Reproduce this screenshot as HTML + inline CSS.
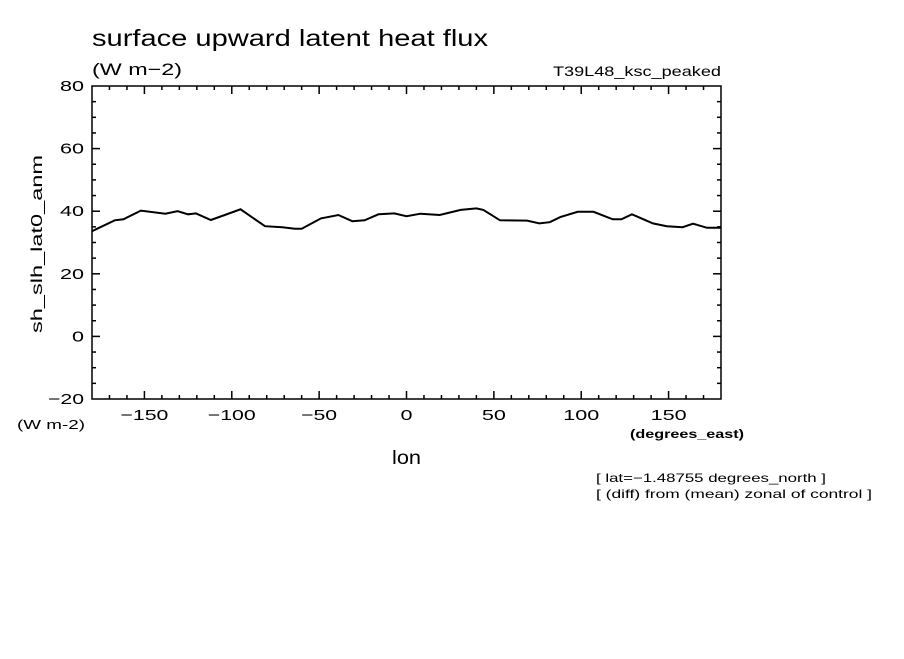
<!DOCTYPE html>
<html><head><meta charset="utf-8"><style>
body{margin:0;background:#fff;width:904px;height:654px;overflow:hidden}
svg text{font-family:"Liberation Sans",sans-serif;fill:#000}
</style></head><body>
<svg id="chart" width="904" height="654" xmlns="http://www.w3.org/2000/svg">
<text x="92" y="46" font-size="23" textLength="396" lengthAdjust="spacingAndGlyphs">surface upward latent heat flux</text>
<text x="92" y="75" font-size="17" textLength="90" lengthAdjust="spacingAndGlyphs">(W m−2)</text>
<text x="553" y="76" font-size="14" textLength="168" lengthAdjust="spacingAndGlyphs">T39L48_ksc_peaked</text>
<text transform="translate(42,155) rotate(-90)" font-size="16" x="-178" textLength="178" lengthAdjust="spacingAndGlyphs">sh_slh_lat0_anm</text>
<text x="17" y="429" font-size="13" textLength="68" lengthAdjust="spacingAndGlyphs">(W m-2)</text>
<text x="630" y="438" font-size="12" font-weight="bold" textLength="114" lengthAdjust="spacingAndGlyphs">(degrees_east)</text>
<text x="392" y="464" font-size="19" textLength="29" lengthAdjust="spacingAndGlyphs">lon</text>
<text x="596" y="482" font-size="12" textLength="230" lengthAdjust="spacingAndGlyphs">[ lat=−1.48755 degrees_north ]</text>
<text x="596" y="498" font-size="12" textLength="276" lengthAdjust="spacingAndGlyphs">[ (diff) from (mean) zonal of control ]</text>
<g id="axes"></g>
<path id="series" fill="none" stroke="#000" stroke-width="2"/>
</svg>
<script>
const lons=[-180,-167,-162,-152,-138,-131,-125,-120.5,-112,-104,-95,-81,-71,-64,-60,-49,-39,-31,-24,-16,-7,0,8,19,31,40,44,53.5,69,76,82,88,98,107,118,123,129,141,149,158,164,172,180];
const vals=[33.6,37.1,37.4,40.2,39.2,40,39,39.3,37.2,38.8,40.6,35.2,34.9,34.4,34.4,37.7,38.8,36.8,37.1,39,39.3,38.4,39.2,38.8,40.4,40.9,40.4,37.1,37,36.1,36.5,38.1,39.8,39.8,37.4,37.4,39,36.1,35.2,34.9,36,34.7,34.7];
const xTicks=[-150,-100,-50,0,50,100,150];
const yTicks=[-20,0,20,40,60,80];
const X0=92,X1=721,Y0=86,Y1=399;
const xs=v=>X0+(v+180)/360*(X1-X0);
const ys=v=>Y1-(v+20)/100*(Y1-Y0);
const NS="http://www.w3.org/2000/svg";
const g=document.getElementById('axes');
function mk(t,a){const e=document.createElementNS(NS,t);for(const k in a)e.setAttribute(k,a[k]);g.appendChild(e);return e;}
const fr=mk('rect',{x:X0,y:Y0,width:X1-X0,height:Y1-Y0,fill:'none',stroke:'#000','stroke-width':1.5});


for(let v=-170;v<=170;v+=10){const x=xs(v),L=(v%50===0)?8:4;
mk('line',{x1:x,x2:x,y1:Y1,y2:Y1-L,stroke:'#000','stroke-width':1.5});
mk('line',{x1:x,x2:x,y1:Y0,y2:Y0+L,stroke:'#000','stroke-width':1.5});}
for(let v=-15;v<80;v+=5){const y=ys(v),L=(v%20===0)?8:4;
mk('line',{x1:X0,x2:X0+L,y1:y,y2:y,stroke:'#000','stroke-width':1.5});
mk('line',{x1:X1,x2:X1-L,y1:y,y2:y,stroke:'#000','stroke-width':1.5});}
xTicks.forEach(v=>{const s=String(v).replace('-','−');const t=mk('text',{x:xs(v),y:Y1+21,'font-size':15,'text-anchor':'middle',textLength:s.length*12,lengthAdjust:'spacingAndGlyphs'});t.textContent=s;

});
yTicks.forEach(v=>{const s=String(v).replace('-','−');const t=mk('text',{x:X0-8,y:ys(v)+5,'font-size':15,'text-anchor':'end',textLength:s.length*12,lengthAdjust:'spacingAndGlyphs'});t.textContent=s;

});
document.getElementById('series').setAttribute('d',lons.map((l,i)=>(i?'L':'M')+xs(l).toFixed(1)+' '+ys(vals[i]).toFixed(1)).join(''));
</script>
</body></html>
